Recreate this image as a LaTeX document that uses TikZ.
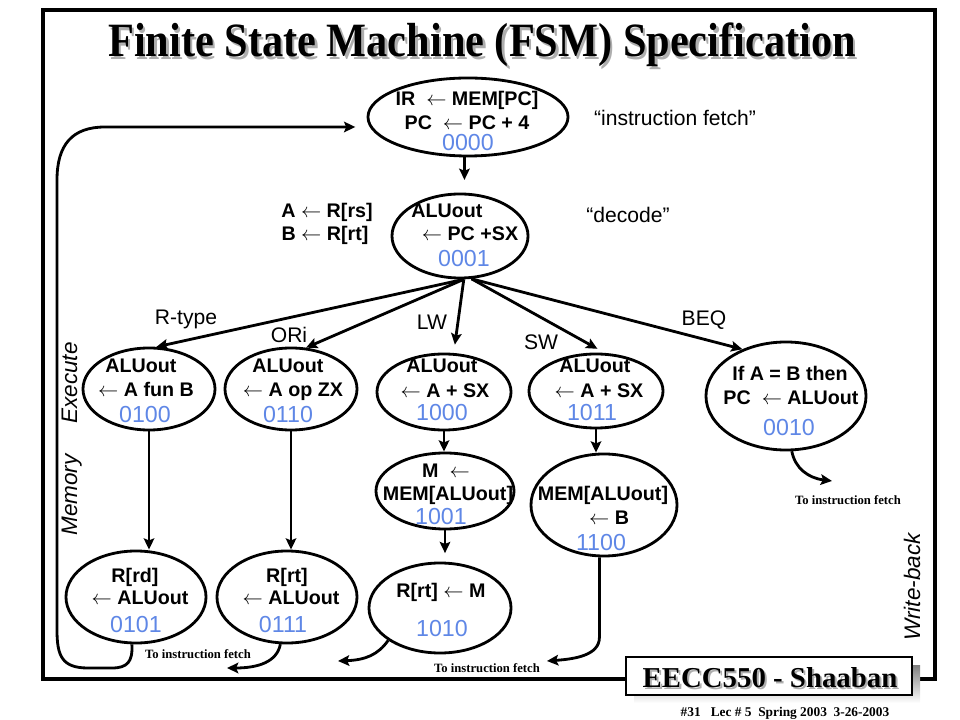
\documentclass[tikz,border=0pt]{standalone}
\usepackage{fontspec}
\setmainfont{Liberation Serif}
\setsansfont{Liberation Sans}
\usetikzlibrary{shapes.geometric, arrows.meta}
\definecolor{numblue}{RGB}{95,135,230}
\definecolor{shade}{RGB}{140,140,140}
\tikzset{
  state/.style={ellipse, draw, line width=2pt, inner sep=0pt},
  op/.style={font=\fontsize{14}{16}\selectfont\sffamily\bfseries, inner sep=0pt, text height=10pt, text depth=0pt},
  code/.style={font=\fontsize{16.5}{18}\selectfont\sffamily, text=numblue, inner sep=0pt, text height=11.8pt, text depth=0pt},
  note/.style={font=\fontsize{15}{17}\selectfont\sffamily, inner sep=0pt, text height=10.7pt, text depth=0pt},
  phase/.style={font=\fontsize{16}{18}\selectfont\sffamily\itshape, rotate=90, inner sep=0pt, text height=11.4pt, text depth=0pt},
  back/.style={font=\fontsize{9}{10}\selectfont\bfseries, inner sep=0pt},
  flow/.style={line width=2pt, -{Stealth[length=8pt,width=7.5pt,inset=1.5pt]}},
}
\begin{document}
\begin{tikzpicture}[x=0.025cm, y=-0.025cm]
\useasboundingbox (0,0) rectangle (960,720);
% frame and title
\draw[line width=2.2pt] (43,10) rectangle (935,679);
\node[font=\fontsize{34}{40}\selectfont\bfseries, text=shade!70, xscale=0.885, anchor=base] (titleshadow) at (484.5,59.5) {Finite State Machine (FSM) Specification};
\node[font=\fontsize{34}{40}\selectfont\bfseries, xscale=0.885, anchor=base] (title) at (482,57) {Finite State Machine (FSM) Specification};

% states
\node[state, minimum width=5cm, minimum height=1.95cm] (st0) at (468,117) {};
\node[state, minimum width=3.4cm, minimum height=2.1cm] (st1) at (460,236) {};
\node[state, minimum width=3.3cm, minimum height=2.05cm] (st4) at (149,389) {};
\node[state, minimum width=3.3cm, minimum height=2.05cm] (st6) at (291,389) {};
\node[state, minimum width=3.35cm, minimum height=1.9cm] (st8) at (444,392) {};
\node[state, minimum width=3.35cm, minimum height=1.85cm] (st11) at (596,391) {};
\node[state, minimum width=4cm, minimum height=2.7cm] (st2) at (786,396) {};
\node[state, minimum width=3.45cm, minimum height=1.9cm] (st9) at (445,491) {};
\node[state, minimum width=3.65cm, minimum height=2.55cm] (st12) at (604,505) {};
\node[state, minimum width=3.5cm, minimum height=2.3cm] (st5) at (136,597) {};
\node[state, minimum width=3.5cm, minimum height=2.3cm] (st7) at (287,597) {};
\node[state, minimum width=3.55cm, minimum height=2.25cm] (st10) at (440,608) {};

% state texts
\node[op] (st0a) at (467,98) {IR\ \ $\leftarrow$ MEM[PC]};
\node[op] (st0b) at (467,122) {PC\ \ $\leftarrow$ PC + 4};
\node[code] (st0c) at (468,142) {0000};
\node[op] (st1a) at (447,210) {ALUout};
\node[op] (st1b) at (470,233) {$\leftarrow$ PC +SX};
\node[code] (st1c) at (464,258) {0001};
\node[op] (st4a) at (141,365) {ALUout};
\node[op] (st4b) at (146,389) {$\leftarrow$ A fun B};
\node[code] (st4c) at (145,414) {0100};
\node[op] (st6a) at (288,365) {ALUout};
\node[op] (st6b) at (293,389) {$\leftarrow$ A op ZX};
\node[code] (st6c) at (288,414) {0110};
\node[op] (st8a) at (442,365) {ALUout};
\node[op] (st8b) at (445,390) {$\leftarrow$ A + SX};
\node[code] (st8c) at (442,412) {1000};
\node[op] (st11a) at (595,365) {ALUout};
\node[op] (st11b) at (599,390) {$\leftarrow$ A + SX};
\node[code] (st11c) at (592,412) {1011};
\node[op] (st2a) at (790,373) {If A = B then};
\node[op] (st2b) at (791,397) {PC\ \ $\leftarrow$ ALUout};
\node[code] (st2c) at (789,427) {0010};
\node[op] (st9a) at (446,470) {M\ \ $\leftarrow$};
\node[op] (st9b) at (448,493) {MEM[ALUout]};
\node[code] (st9c) at (441,516) {1001};
\node[op] (st12a) at (603,493) {MEM[ALUout]};
\node[op] (st12b) at (609,517) {$\leftarrow$ B};
\node[code] (st12c) at (601,542) {1100};
\node[op] (st5a) at (135,575) {R[rd]};
\node[op] (st5b) at (140,597) {$\leftarrow$ ALUout};
\node[code] (st5c) at (136,624) {0101};
\node[op] (st7a) at (287,575) {R[rt]};
\node[op] (st7b) at (291,597) {$\leftarrow$ ALUout};
\node[code] (st7c) at (283,624) {0111};
\node[op] (st10a) at (441,590) {R[rt] $\leftarrow$ M};
\node[code] (st10c) at (442,628) {1010};

% side notes
\node[op] (rs) at (327,210) {A $\leftarrow$ R[rs]};
\node[op] (rt) at (325,233) {B $\leftarrow$ R[rt]};
\node[note] (fetch) at (675,118) {“instruction fetch”};
\node[note] (decode) at (628,215) {“decode”};
\node[note] (rtype) at (186,317) {R-type};
\node[note] (ori) at (289,335) {ORi};
\node[note] (lw) at (432,322) {LW};
\node[note] (sw) at (541,342) {SW};
\node[note] (beq) at (704,318) {BEQ};
\node[phase] (execute) at (69,383) {Execute};
\node[phase] (memory) at (69,495) {Memory};
\node[phase] (writeback) at (912,587) {Write-back};
\node[back] (ret5txt) at (198,654) {To instruction fetch};
\node[back] (ret10txt) at (487,668) {To instruction fetch};
\node[back] (ret2txt) at (848,500) {To instruction fetch};

% transitions
\draw[flow, shorten >=9pt] (st0.265) -- (st0.265 |- st1.north);
\draw[flow] (st1.275) -- (st4.80);
\draw[flow] (st1.275) -- (st6.70);
\draw[flow, shorten >=6pt] (st1.275) -- (st8.76);
\draw[flow, shorten >=6pt] (st1.285) -- (st11.77);
\draw[flow] (st1.285) -- (st2.133);
\draw[flow] (st4.south) -- (st4.south |- st5.north);
\draw[flow] (st6.south) -- (st6.south |- st7.north);
\draw[flow] (st8.south) -- (st8.south |- st9.north);
\draw[flow, shorten >=6pt] (st9.south) -- (st9.south |- st10.north);
\draw[flow] (st11.south) -- (st11.south |- st12.north);

% back to instruction fetch
\coordinate (loopin) at (105,127);
\coordinate (ret7) at (227,668);
\coordinate (ret10) at (338,661);
\coordinate (ret12) at (547,661);
\coordinate (ret2) at (832,481);
\draw[flow, shorten >=8pt] (st5.265) .. controls (133,662) and (127,668) .. (112,668) -- (88,668)
      .. controls (62,668) and (57,656) .. (57,630) -- (57,180)
      .. controls (57,145) and (72,127) .. (loopin) -- (st0.west |- loopin);
\draw[flow] (st7.262) .. controls (277,662) and (258,668) .. (ret7);
\draw[flow] (st10.212) .. controls (378,655) and (365,660) .. (ret10);
\draw[flow] (st12.265) -- ++(0,80) .. controls +(0,18) and (575,659) .. (ret12);
\draw[flow] (st2.276) .. controls (795,468) and (808,478) .. (ret2);

% course box
\fill[shade] (634,665) rectangle (920,703);
\node[draw, fill=white, line width=0.8pt, minimum width=7.15cm, minimum height=0.95cm, inner sep=0pt] (brand) at (769,676) {};
\node[font=\fontsize{20.5}{24}\selectfont\bfseries, text=shade!70, anchor=base] (brandshadow) at (772,689) {EECC550 - Shaaban};
\node[font=\fontsize{20.5}{24}\selectfont\bfseries, anchor=base] (brandtxt) at (770,687) {EECC550 - Shaaban};
\node[font=\fontsize{9.5}{11}\selectfont\bfseries, anchor=base] (foot) at (785,716) {\#31\ \ \ Lec \# 5\ \ Spring 2003\ \ 3-26-2003};
\end{tikzpicture}
\end{document}
